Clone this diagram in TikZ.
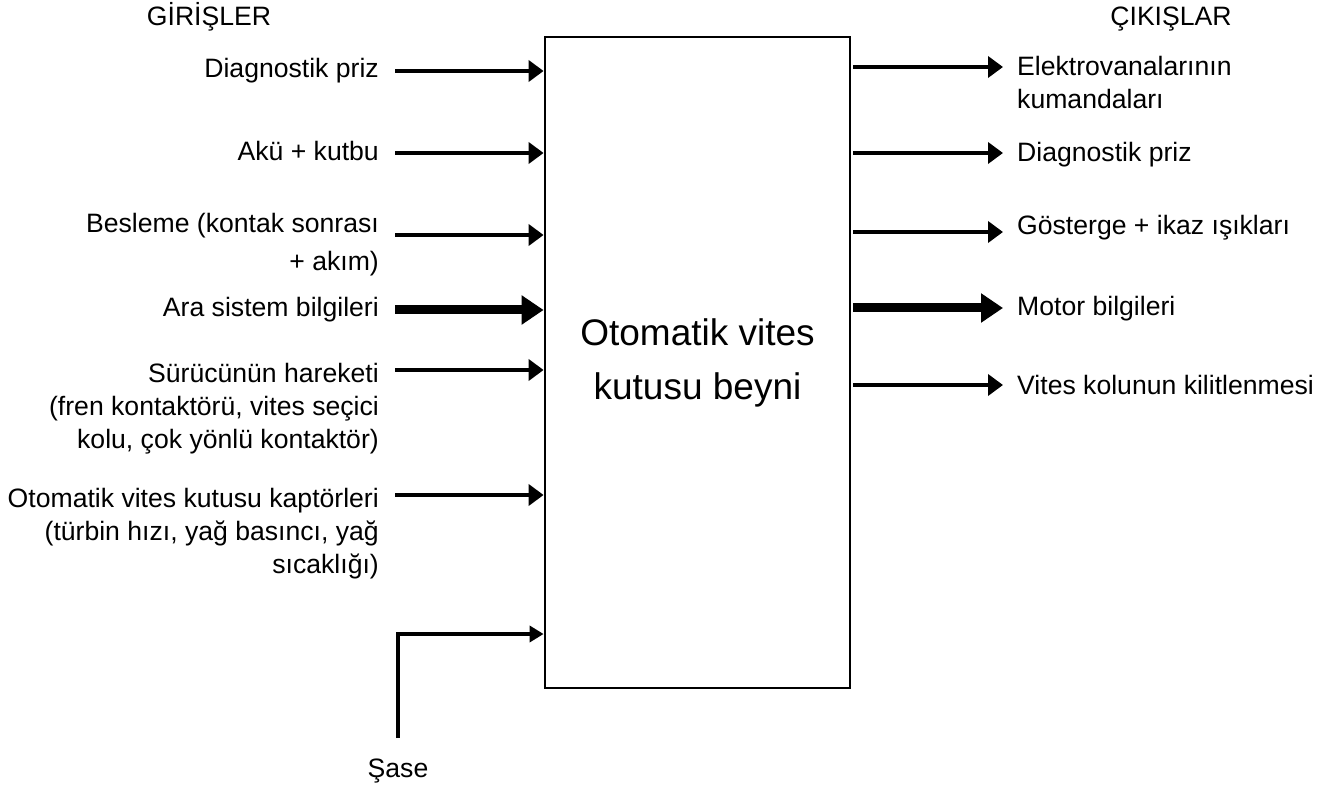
\documentclass[tikz,border=0pt]{standalone}
\usepackage{fontspec}
\setmainfont{Liberation Sans}
\usetikzlibrary{arrows.meta}
\begin{document}
\begin{tikzpicture}[x=1pt,y=-1pt,
  lbl/.style={inner sep=0pt, font=\fontsize{26.6}{33}\selectfont},
  inlbl/.style={lbl, anchor=base east},
  outlbl/.style={lbl, anchor=base west},
  hdr/.style={lbl, anchor=base},
  sigarrow/.style={line width=4pt, -{Triangle[length=15pt,width=21pt]}},
  busarrow/.style={line width=9pt, -{Triangle[length=22pt,width=28pt]}},
  gndarrow/.style={line width=3.5pt, -{Triangle[length=14pt,width=16pt]}},
  ecubox/.style={draw, line width=2.8pt, minimum width=305pt, minimum height=651pt,
    inner sep=0pt, align=center, font=\fontsize{37}{54}\selectfont}]
\useasboundingbox (0,0) rectangle (1335,791);

\node[ecubox] (ecu) at (697.5,362.5) {Otomatik vites\\kutusu beyni};

% headers
\node[hdr] (hin) at (209,26) {GİRİŞLER};
\node[hdr] (hout) at (1171,26) {ÇIKIŞLAR};

% input labels
\node[inlbl] (l1) at (379,78) {Diagnostik priz};
\node[inlbl] (l2) at (379,161) {Akü + kutbu};
\node[inlbl] (l3) at (379,233) {\begin{tabular}[t]{@{}r@{}}Besleme (kontak sonrası\\[5pt] + akım)\end{tabular}};
\node[inlbl] (l4) at (379,317) {Ara sistem bilgileri};
\node[inlbl] (l5) at (379,382) {\begin{tabular}[t]{@{}r@{}}Sürücünün hareketi\\(fren kontaktörü, vites seçici\\kolu, çok yönlü kontaktör)\end{tabular}};
\node[inlbl] (l6) at (379,507) {\begin{tabular}[t]{@{}r@{}}Otomatik vites kutusu kaptörleri\\(türbin hızı, yağ basıncı, yağ\\sıcaklığı)\end{tabular}};
\node[lbl, anchor=base] (l7) at (398,777) {Şase};

% input arrow starts
\coordinate (i1) at (395,71);
\coordinate (i2) at (395,153);
\coordinate (i3) at (395,235);
\coordinate (i4) at (395,310);
\coordinate (i5) at (395,370);
\coordinate (i6) at (395,495);
\coordinate (g0) at (398,738);
\coordinate (g1) at (398,634);

\draw[sigarrow] (i1) -- (i1 -| ecu.west);
\draw[sigarrow] (i2) -- (i2 -| ecu.west);
\draw[sigarrow] (i3) -- (i3 -| ecu.west);
\draw[busarrow] (i4) -- (i4 -| ecu.west);
\draw[sigarrow] (i5) -- (i5 -| ecu.west);
\draw[sigarrow] (i6) -- (i6 -| ecu.west);
\draw[gndarrow] (g0) -- (g1) -- (g1 -| ecu.west);

% output labels
\node[outlbl] (r1) at (1017,76) {\begin{tabular}[t]{@{}l@{}}Elektrovanalarının\\kumandaları\end{tabular}};
\node[outlbl] (r2) at (1017,162) {Diagnostik priz};
\node[outlbl] (r3) at (1017,235) {Gösterge + ikaz ışıkları};
\node[outlbl] (r4) at (1017,316) {Motor bilgileri};
\node[outlbl] (r5) at (1017,394) {Vites kolunun kilitlenmesi};

% output arrow ends
\coordinate (o1) at (1003,67);
\coordinate (o2) at (1003,153);
\coordinate (o3) at (1003,232);
\coordinate (o4) at (1003,308);
\coordinate (o5) at (1003,385);

\draw[sigarrow] ([xshift=2pt]ecu.east |- o1) -- (o1);
\draw[sigarrow] ([xshift=2pt]ecu.east |- o2) -- (o2);
\draw[sigarrow] ([xshift=2pt]ecu.east |- o3) -- (o3);
\draw[busarrow] ([xshift=2pt]ecu.east |- o4) -- (o4);
\draw[sigarrow] ([xshift=2pt]ecu.east |- o5) -- (o5);
\end{tikzpicture}
\end{document}
